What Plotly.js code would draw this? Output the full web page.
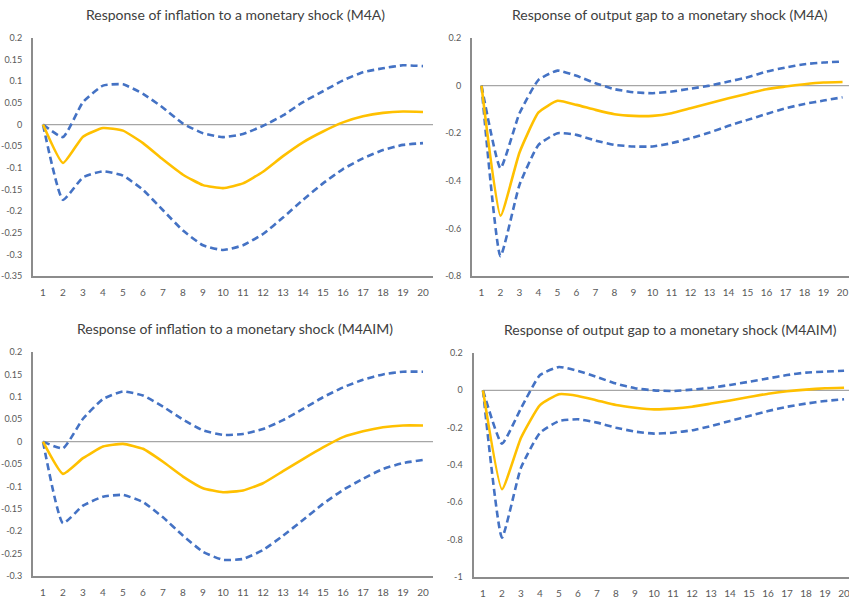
<!DOCTYPE html>
<html>
<head>
<meta charset="utf-8">
<script src="https://cdn.plot.ly/plotly-3.0.1.min.js"></script>
<style>html,body{margin:0;padding:0;background:#fff;}#chart{width:849px;height:598px;}</style>
</head>
<body>
<div id="chart"></div>
<script>
const periods = [1,2,3,4,5,6,7,8,9,10,11,12,13,14,15,16,17,18,19,20];

const titles = [
  "Response of inflation to a monetary shock (M4A)",
  "Response of output gap to a monetary shock (M4A)",
  "Response of inflation to a monetary shock (M4AIM)",
  "Response of output gap to a monetary shock (M4AIM)"
];

// Panel 1: inflation, M4A
const infM4A_mid = [0,-0.089,-0.028,-0.008,-0.014,-0.043,-0.081,-0.116,-0.140,-0.147,-0.136,-0.109,-0.073,-0.041,-0.016,0.005,0.019,0.027,0.030,0.029];
const infM4A_up  = [0,-0.029,0.052,0.090,0.093,0.071,0.039,0.002,-0.020,-0.029,-0.022,-0.003,0.021,0.052,0.077,0.102,0.121,0.130,0.137,0.135];
const infM4A_lo  = [0,-0.174,-0.122,-0.108,-0.118,-0.151,-0.198,-0.245,-0.279,-0.290,-0.279,-0.253,-0.215,-0.174,-0.136,-0.103,-0.078,-0.059,-0.047,-0.043];

// Panel 2: output gap, M4A
const gapM4A_mid = [0,-0.547,-0.281,-0.113,-0.064,-0.081,-0.102,-0.120,-0.127,-0.127,-0.116,-0.095,-0.074,-0.053,-0.034,-0.015,-0.004,0.006,0.013,0.015];
const gapM4A_up  = [0,-0.347,-0.116,0.024,0.063,0.041,0.010,-0.015,-0.028,-0.032,-0.025,-0.013,0.000,0.017,0.035,0.059,0.076,0.090,0.097,0.101];
const gapM4A_lo  = [0,-0.717,-0.417,-0.249,-0.200,-0.207,-0.231,-0.249,-0.256,-0.256,-0.242,-0.221,-0.197,-0.169,-0.144,-0.119,-0.095,-0.077,-0.063,-0.049];

// Panel 3: inflation, M4AIM
const infAIM_mid = [0,-0.072,-0.037,-0.011,-0.005,-0.016,-0.045,-0.078,-0.104,-0.113,-0.109,-0.093,-0.066,-0.039,-0.013,0.010,0.023,0.032,0.036,0.036];
const infAIM_up  = [0,-0.015,0.051,0.095,0.112,0.103,0.078,0.049,0.025,0.015,0.017,0.028,0.048,0.073,0.099,0.121,0.138,0.150,0.156,0.156];
const infAIM_lo  = [0,-0.182,-0.143,-0.123,-0.119,-0.135,-0.169,-0.210,-0.246,-0.264,-0.262,-0.242,-0.210,-0.175,-0.139,-0.108,-0.083,-0.061,-0.048,-0.041];

// Panel 4: output gap, M4AIM
const gapAIM_mid = [0,-0.530,-0.254,-0.079,-0.021,-0.030,-0.054,-0.079,-0.093,-0.102,-0.098,-0.088,-0.071,-0.054,-0.036,-0.018,-0.005,0.004,0.011,0.014];
const gapAIM_up  = [0,-0.286,-0.096,0.082,0.125,0.104,0.071,0.036,0.011,0.000,-0.004,0.004,0.014,0.029,0.046,0.064,0.082,0.095,0.100,0.105];
const gapAIM_lo  = [0,-0.789,-0.414,-0.227,-0.164,-0.155,-0.173,-0.200,-0.221,-0.232,-0.227,-0.214,-0.191,-0.164,-0.138,-0.111,-0.088,-0.071,-0.057,-0.048];

const yTicks1 = [0.2,0.15,0.1,0.05,0,-0.05,-0.1,-0.15,-0.2,-0.25,-0.3,-0.35];
const yTicks2 = [0.2,0,-0.2,-0.4,-0.6,-0.8];
const yTicks3 = [0.2,0.15,0.1,0.05,0,-0.05,-0.1,-0.15,-0.2,-0.25,-0.3];
const yTicks4 = [0.2,0,-0.2,-0.4,-0.6,-0.8,-1];

const W = 849, H = 598;
const panels = [
  {mid: infM4A_mid, up: infM4A_up, lo: infM4A_lo, ticks: yTicks1, yr: [-0.35,0.2], xpx:[33,433], xr:[0.5,20.5], ypx:[38,276]},
  {mid: gapM4A_mid, up: gapM4A_up, lo: gapM4A_lo, ticks: yTicks2, yr: [-0.8,0.2], xpx:[472,849], xr:[0.5,20.34], ypx:[38,276]},
  {mid: infAIM_mid, up: infAIM_up, lo: infAIM_lo, ticks: yTicks3, yr: [-0.3,0.2], xpx:[33,433], xr:[0.5,20.5], ypx:[352,576]},
  {mid: gapAIM_mid, up: gapAIM_up, lo: gapAIM_lo, ticks: yTicks4, yr: [-1,0.2], xpx:[473.5,849], xr:[0.5,20.26], ypx:[353,577]}
];
const titlePos = [[236,15],[670,15],[235,328],[670,329]];

const FONT = "Lato, 'Open Sans', sans-serif";
const traces = [];
const layout = {
  width: W, height: H,
  margin: {l:0, r:0, t:0, b:0},
  paper_bgcolor: '#ffffff', plot_bgcolor: '#ffffff',
  showlegend: false,
  shapes: [], annotations: []
};

panels.forEach((p, i) => {
  const n = i + 1;
  const xa = n === 1 ? 'x' : 'x' + n;
  const ya = n === 1 ? 'y' : 'y' + n;
  const common = {x: periods, xaxis: xa, yaxis: ya, mode: 'lines', hoverinfo: 'skip'};
  traces.push(Object.assign({}, common, {y: p.up, line: {color: '#4472C4', width: 2.6, dash: '7px,4px', shape: 'spline', smoothing: 0.45}}));
  traces.push(Object.assign({}, common, {y: p.lo, line: {color: '#4472C4', width: 2.6, dash: '7px,4px', shape: 'spline', smoothing: 0.45}}));
  traces.push(Object.assign({}, common, {y: p.mid, line: {color: '#FFC000', width: 2.6, shape: 'spline', smoothing: 0.45}}));

  layout['xaxis' + (n === 1 ? '' : n)] = {
    domain: [p.xpx[0] / W, p.xpx[1] / W],
    range: p.xr, anchor: ya,
    tickvals: periods, ticktext: periods.map(String),
    showgrid: false, zeroline: false,
    showline: true, linecolor: '#8c8c8c', linewidth: 2,
    ticks: '', tickfont: {family: FONT, size: 10, color: '#595959'},
    ticklabelstandoff: 6, ticklabeloverflow: 'allow', fixedrange: true
  };
  layout['yaxis' + (n === 1 ? '' : n)] = {
    domain: [1 - p.ypx[1] / H, 1 - p.ypx[0] / H],
    range: p.yr, anchor: xa,
    tickvals: p.ticks, ticktext: p.ticks.map(String),
    showgrid: false, zeroline: false,
    showline: true, linecolor: '#8c8c8c', linewidth: 2,
    ticks: '', tickfont: {family: FONT, size: 9, color: '#595959'},
    ticklabelstandoff: 7, ticklabeloverflow: 'allow', fixedrange: true
  };
  layout.shapes.push({
    type: 'line', xref: xa, yref: ya,
    x0: periods[0], x1: p.xr[1], y0: 0, y1: 0,
    line: {color: '#a6a6a6', width: 1.2}, layer: 'below'
  });
  layout.annotations.push({
    text: titles[i], xref: 'paper', yref: 'paper',
    x: titlePos[i][0] / W, y: 1 - titlePos[i][1] / H,
    xanchor: 'center', yanchor: 'middle', showarrow: false,
    font: {family: FONT, size: 14, color: '#404040'}
  });
});

Plotly.newPlot('chart', traces, layout, {staticPlot: true, displayModeBar: false});
</script>
</body>
</html>
